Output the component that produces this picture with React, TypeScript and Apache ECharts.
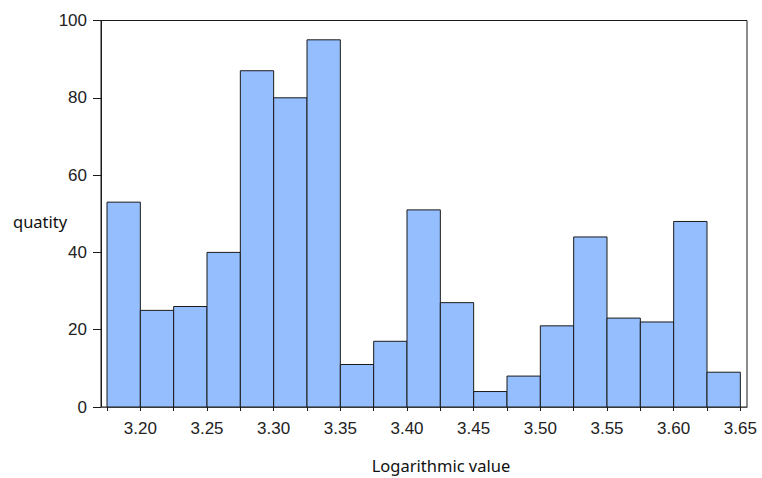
import React, { useEffect, useRef } from "react";
import * as echarts from "echarts";

const binStarts = [3.175, 3.2, 3.225, 3.25, 3.275, 3.3, 3.325, 3.35, 3.375, 3.4, 3.425, 3.45, 3.475, 3.5, 3.525, 3.55, 3.575, 3.6, 3.625];
const binEnds = [3.2, 3.225, 3.25, 3.275, 3.3, 3.325, 3.35, 3.375, 3.4, 3.425, 3.45, 3.475, 3.5, 3.525, 3.55, 3.575, 3.6, 3.625, 3.65];
const counts = [53, 25, 26, 40, 87, 80, 95, 11, 17, 51, 27, 4, 8, 21, 44, 23, 22, 48, 9];
const xTicks = [3.175, 3.2, 3.225, 3.25, 3.275, 3.3, 3.325, 3.35, 3.375, 3.4, 3.425, 3.45, 3.475, 3.5, 3.525, 3.55, 3.575, 3.6, 3.625, 3.65];
const xLabels = [3.2, 3.25, 3.3, 3.35, 3.4, 3.45, 3.5, 3.55, 3.6, 3.65];
const yAxisTitle = "quatity";
const xAxisTitle = "Logarithmic value";

export default function App() {
  const ref = useRef<HTMLDivElement>(null);
  useEffect(() => {
    if (!ref.current) return;
    const chart = echarts.init(ref.current, undefined, { renderer: "svg" });
    const data = binStarts.map((s, i) => [s, binEnds[i], counts[i]]);
    chart.setOption({
      animation: false,
      backgroundColor: "#ffffff",
      grid: {
        left: 101,
        top: 20.5,
        right: 15,
        bottom: 71,
        show: true,
        borderColor: "#1a1a1a",
        borderWidth: 1,
        backgroundColor: "transparent",
      },
      xAxis: {
        type: "value",
        min: 3.1705,
        max: 3.655,
        axisLine: { show: true, onZero: false, lineStyle: { color: "#555555", width: 1 } },
        axisTick: {
          show: true,
          inside: false,
          length: 4,
          customValues: xTicks,
          lineStyle: { color: "#1a1a1a" },
        },
        axisLabel: {
          customValues: xLabels,
          formatter: (v: number) => v.toFixed(2),
          fontFamily: "Liberation Sans, Arial, sans-serif",
          fontSize: 17,
          color: "#222222",
          margin: 13,
        },
        splitLine: { show: false },
      },
      yAxis: {
        type: "value",
        min: 0,
        max: 100,
        interval: 20,
        axisLine: { show: true, lineStyle: { color: "#1a1a1a", width: 1 } },
        axisTick: { show: true, inside: false, length: 8, lineStyle: { color: "#1a1a1a" } },
        axisLabel: {
          fontFamily: "Liberation Sans, Arial, sans-serif",
          fontSize: 17,
          color: "#222222",
          margin: 14,
        },
        splitLine: { show: false },
      },
      graphic: [
        {
          type: "text",
          left: 13,
          top: 213,
          style: {
            text: yAxisTitle,
            font: "16.5px 'Noto Sans', sans-serif",
            fill: "#111111",
          },
        },
        {
          type: "text",
          x: 441,
          y: 465,
          style: {
            text: xAxisTitle,
            font: "16.5px 'Noto Sans', sans-serif",
            fill: "#111111",
            textAlign: "center",
            textVerticalAlign: "middle",
          },
        },
      ],
      series: [
        {
          type: "custom",
          data,
          encode: { x: [0, 1], y: 2 },
          renderItem: (params: any, api: any) => {
            const p0 = api.coord([api.value(0), api.value(2)]);
            const p1 = api.coord([api.value(1), 0]);
            return {
              type: "rect",
              shape: { x: p0[0], y: p0[1], width: p1[0] - p0[0], height: p1[1] - p0[1] },
              style: { fill: "#95BEFE", stroke: "#1a1a1a", lineWidth: 1 },
            };
          },
        },
      ],
    });
    return () => chart.dispose();
  }, []);
  return <div ref={ref} style={{ width: 762, height: 478, position: "absolute", left: 0, top: 0 }} />;
}
